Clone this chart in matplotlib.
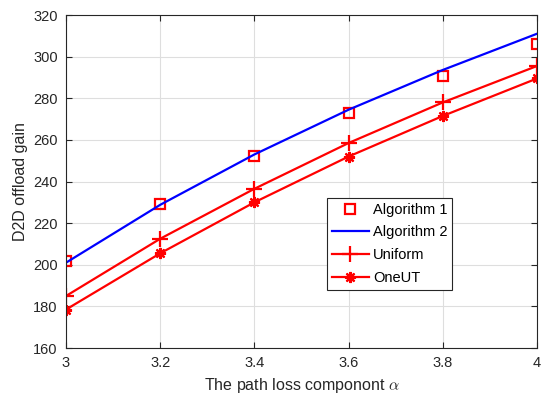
import numpy as np
import matplotlib.pyplot as plt

plt.rcParams['font.family'] = ['Liberation Sans', 'DejaVu Sans']
plt.rcParams['mathtext.fontset'] = 'cm'

# path loss exponent
alpha = [3.0, 3.2, 3.4, 3.6, 3.8, 4.0]

# D2D offload gain
alg1 = [201.8, 229.0, 252.2, 272.8, 290.6, 306.0]
alg2 = [201.0, 228.8, 253.0, 274.5, 293.6, 311.0]
uniform = [185.0, 212.5, 236.5, 258.5, 278.0, 295.5]
oneut = [178.5, 205.5, 230.0, 252.0, 271.5, 289.5]

xticks = [3, 3.2, 3.4, 3.6, 3.8, 4]
xticklabels = ['3', '3.2', '3.4', '3.6', '3.8', '4']
yticks = np.arange(160, 321, 20)

fig = plt.figure(figsize=(5.42, 3.99), dpi=100)
ax = fig.add_axes([0.1218, 0.1278, 0.8690, 0.8346])

ax.plot(alpha, alg1, 's', color='red', mfc='none', mew=1.6, ms=6.5, label='Algorithm 1')
ax.plot(alpha, alg2, '-', color='blue', lw=1.6, label='Algorithm 2')
ax.plot(alpha, uniform, '-+', color='red', lw=1.6, ms=11, mew=1.6, label='Uniform')
ax.plot(alpha, oneut, '-', color='red', lw=1.6, marker=(8, 2, 0), ms=8, mew=1.6, label='OneUT')

ax.set_xlim(3, 4)
ax.set_ylim(160, 320)
ax.set_xticks(xticks)
ax.set_xticklabels(xticklabels)
ax.set_yticks(yticks)
ax.grid(True, color='#dedede', lw=0.8)
ax.set_axisbelow(True)
for s in ax.spines.values():
    s.set_color('#262626')
    s.set_linewidth(0.8)
ax.tick_params(direction='in', length=4, width=0.8, color='#262626', labelsize=10.5,
               top=True, right=True, pad=6, labelcolor='#262626')

ax.set_xlabel(r'The path loss componont $\alpha$', fontsize=11.5, color='#262626')
ax.set_ylabel('D2D offload gain', fontsize=11.5, color='#262626')

leg = ax.legend(loc='lower left', bbox_to_anchor=(0.554, 0.174), fontsize=10.5,
                fancybox=False, framealpha=1, edgecolor='#262626',
                handlelength=2.5, borderpad=0.35, labelspacing=0.6, handletextpad=0.3,
                borderaxespad=0)
leg.get_frame().set_linewidth(0.8)

fig.savefig('out.png', dpi=100)
